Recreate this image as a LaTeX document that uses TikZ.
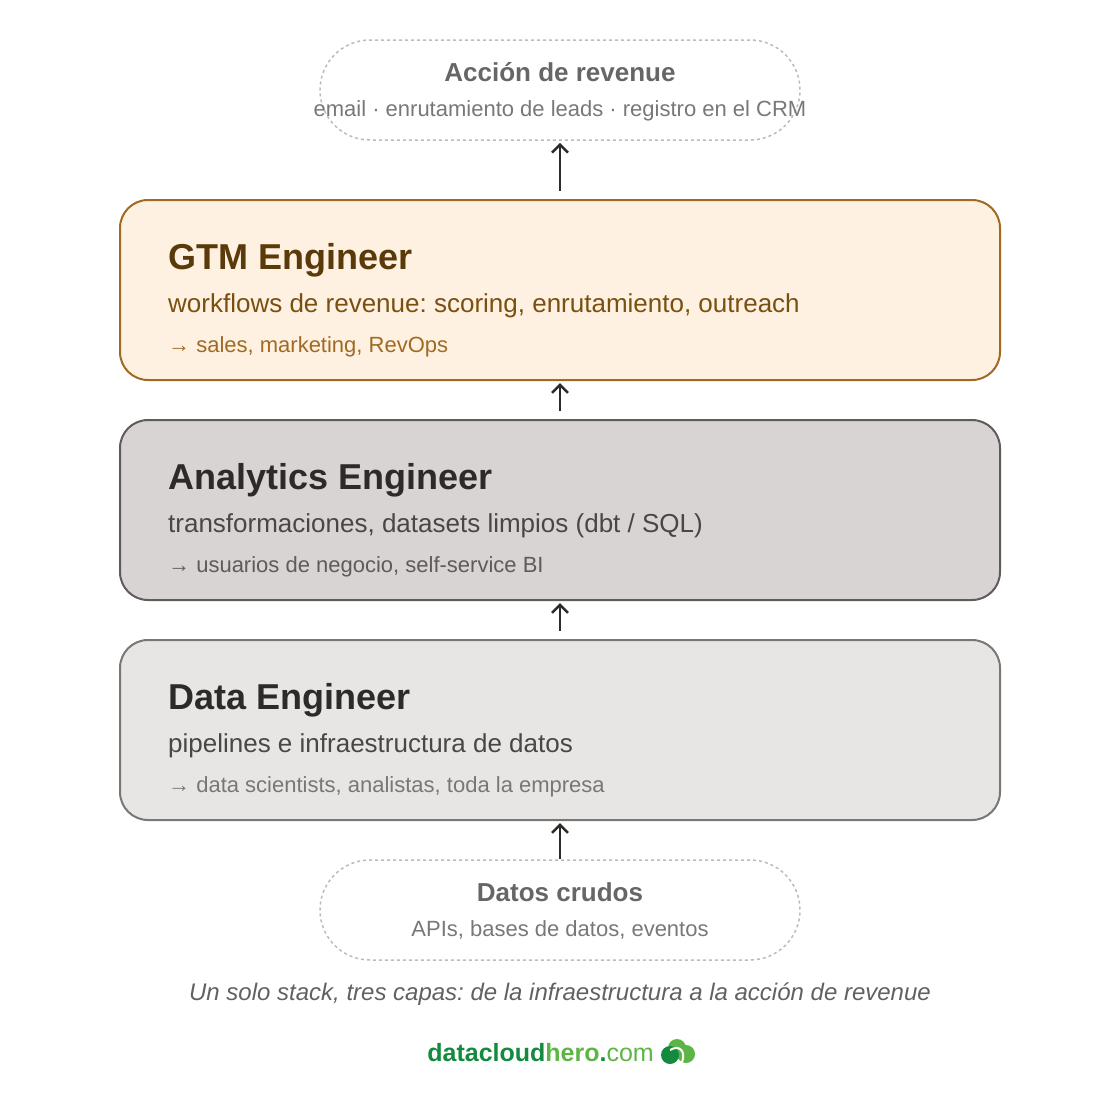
\documentclass[tikz,border=0pt]{standalone}
\usepackage{fontspec}
\setmainfont{Liberation Sans}
\usetikzlibrary{positioning,arrows.meta}
\frenchspacing

\definecolor{gtmfill}{HTML}{FEF1E1}
\definecolor{gtmline}{HTML}{A06A22}
\definecolor{gtmtitle}{HTML}{5A3A0A}
\definecolor{gtmsub}{HTML}{7A5010}
\definecolor{anafill}{HTML}{D8D4D3}
\definecolor{analine}{HTML}{5F5B5A}
\definecolor{anatitle}{HTML}{2E2A28}
\definecolor{anasub}{HTML}{4A4644}
\definecolor{datfill}{HTML}{E8E6E4}
\definecolor{datline}{HTML}{7A7674}
\definecolor{dashline}{HTML}{BBBBBB}
\definecolor{logodark}{HTML}{138A3E}
\definecolor{logolight}{HTML}{5DB545}

\tikzset{
    layer/.style={draw,line width=2pt,rounded corners=28pt,minimum width=880pt,minimum height=180pt},
    ends/.style={draw=dashline,dashed,line width=1.5pt,rounded corners=50pt,minimum width=480pt,minimum height=100pt},
    title/.style={anchor=base west,inner sep=0pt,font=\fontsize{36}{40}\selectfont\bfseries},
    sub/.style={anchor=base west,inner sep=0pt,font=\fontsize{26}{30}\selectfont},
    who/.style={anchor=base west,inner sep=0pt,font=\fontsize{22}{26}\selectfont},
    up/.style={-{Straight Barb[length=8pt,width=16pt,line width=2.5pt]},line width=2.5pt,draw=anatitle}
}

\begin{document}
\begin{tikzpicture}[x=1pt,y=-1pt]
    \useasboundingbox (0,0) rectangle (1120,1120);

    % sources and target
    \node (act) [ends] at (560,90)  {};
    \node (raw) [ends] at (560,910) {};
    \node (acttitle) [font=\fontsize{26}{30}\selectfont\bfseries,text=black!60,anchor=base] at (560,81)  {Acción de revenue};
    \node (actsub)   [font=\fontsize{22}{26}\selectfont,text=black!53,anchor=base]         at (560,116) {email · enrutamiento de leads · registro en el CRM};
    \node (rawtitle) [font=\fontsize{26}{30}\selectfont\bfseries,text=black!60,anchor=base] at (560,901) {Datos crudos};
    \node (rawsub)   [font=\fontsize{22}{26}\selectfont,text=black!53,anchor=base]         at (560,936) {APIs, bases de datos, eventos};

    % layers
    \node (gtm) [layer,draw=gtmline,fill=gtmfill] at (560,290) {};
    \node (ana) [layer,draw=analine,fill=anafill] at (560,510) {};
    \node (dat) [layer,draw=datline,fill=datfill] at (560,730) {};

    \node (gtm1) [title,text=gtmtitle] at (168,269) {GTM Engineer};
    \node (gtm2) [sub,text=gtmsub]     at (168,312) {workflows de revenue: scoring, enrutamiento, outreach};
    \node (gtm3) [who,text=gtmline]    at (168,352) {→ sales, marketing, RevOps};

    \node (ana1) [title,text=anatitle] at (168,489) {Analytics Engineer};
    \node (ana2) [sub,text=anasub]     at (168,532) {transformaciones, datasets limpios (dbt / SQL)};
    \node (ana3) [who,text=analine]    at (168,572) {→ usuarios de negocio, self-service BI};

    \node (dat1) [title,text=anatitle] at (168,709) {Data Engineer};
    \node (dat2) [sub,text=anasub]     at (168,752) {pipelines e infraestructura de datos};
    \node (dat3) [who,text=datline]    at (168,792) {→ data scientists, analistas, toda la empresa};

    % flow
    \draw [up] (raw.north) -- ([yshift=-2pt]dat.south);
    \draw [up] ([yshift=8pt]dat.north) -- ([yshift=-2pt]ana.south);
    \draw [up] ([yshift=8pt]ana.north) -- ([yshift=-2pt]gtm.south);
    \draw [up] ([yshift=8pt]gtm.north) -- ([yshift=-2pt]act.south);

    \node (note) [font=\fontsize{24}{28}\selectfont\itshape,text=black!62,anchor=base] at (560,1000)
        {Un solo stack, tres capas: de la infraestructura a la acción de revenue};

    % logo
    \node (logo) [anchor=base east,inner sep=0pt,font=\fontsize{25}{30}\selectfont] at (654,1061)
        {\textbf{\textcolor{logodark}{datacloud}\textcolor{logolight}{hero}\textcolor{logodark}{.}}\textcolor{logolight}{com}};
    \fill [logolight] (677,1048) circle (9pt) (686,1054) circle (9pt);
    \fill [logodark]  (670,1055) circle (9pt);
    \draw [white,line width=2pt] (670,1050) .. controls (680,1044) and (686,1052) .. (682,1062);
\end{tikzpicture}
\end{document}
